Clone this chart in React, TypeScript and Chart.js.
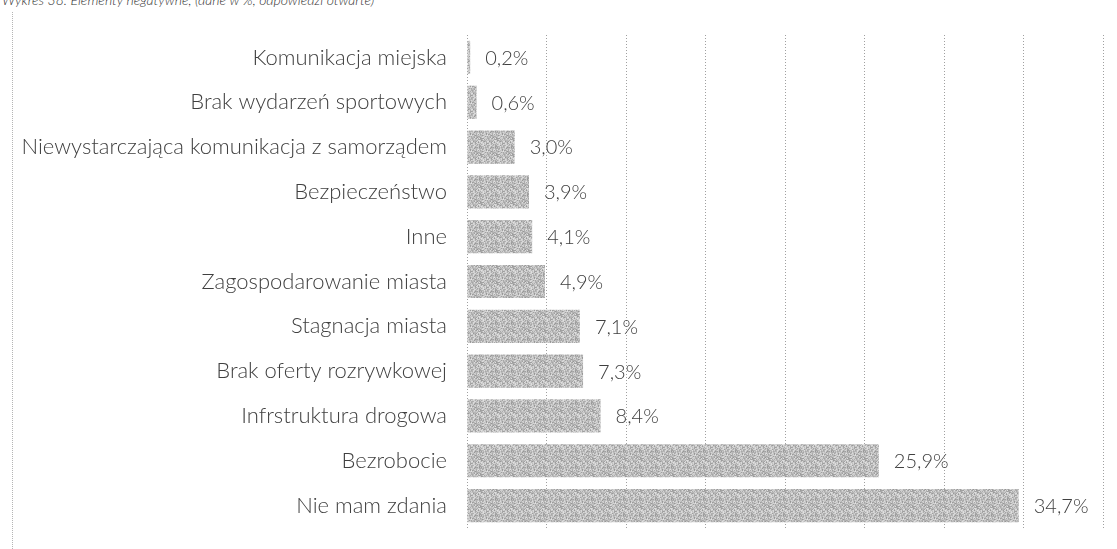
import React, { useEffect, useRef } from "react";
import { Chart, registerables } from "chart.js";

Chart.register(...registerables);

const titleText = "Wykres 38. Elementy negatywne, (dane w %, odpowiedzi otwarte)";

const categories = [
  "Komunikacja miejska",
  "Brak wydarzeń sportowych",
  "Niewystarczająca komunikacja z samorządem",
  "Bezpieczeństwo",
  "Inne",
  "Zagospodarowanie miasta",
  "Stagnacja miasta",
  "Brak oferty rozrywkowej",
  "Infrstruktura drogowa",
  "Bezrobocie",
  "Nie mam zdania",
];

const values = [0.2, 0.6, 3.0, 3.9, 4.1, 4.9, 7.1, 7.3, 8.4, 25.9, 34.7];

const xMin = 0;
const xMax = 40;
const xStep = 5;

const FONT = "Lato, 'Open Sans', sans-serif";

function makeTexture(): CanvasPattern | string {
  const size = 16;
  const c = document.createElement("canvas");
  c.width = size;
  c.height = size;
  const ctx = c.getContext("2d");
  if (!ctx) return "#b4b4b4";
  // deterministic grain for the bar fill (style only)
  let s = 12345;
  const next = () => {
    s = (s * 1103515245 + 12345) & 0x7fffffff;
    return s / 0x7fffffff;
  };
  for (let y = 0; y < size; y++) {
    for (let x = 0; x < size; x++) {
      const g = Math.round(150 + next() * 75);
      ctx.fillStyle = `rgb(${g},${g},${g})`;
      ctx.fillRect(x, y, 1, 1);
    }
  }
  const p = ctx.createPattern(c, "repeat");
  return p || "#b4b4b4";
}

const valueLabels = {
  id: "valueLabels",
  afterDatasetsDraw(chart: any) {
    const ctx = chart.ctx;
    const meta = chart.getDatasetMeta(0);
    ctx.save();
    ctx.font = `300 20px ${FONT}`;
    ctx.fillStyle = "#404040";
    ctx.textAlign = "left";
    ctx.textBaseline = "middle";
    meta.data.forEach((bar: any, i: number) => {
      const v = chart.data.datasets[0].data[i] as number;
      const label = v.toFixed(1).replace(".", ",") + "%";
      ctx.fillText(label, bar.x + 15, bar.y + 1);
    });
    ctx.restore();
  },
};

export default function App() {
  const canvasRef = useRef<HTMLCanvasElement | null>(null);

  useEffect(() => {
    if (!canvasRef.current) return;
    const chart = new Chart(canvasRef.current, {
      type: "bar",
      data: {
        labels: categories,
        datasets: [
          {
            data: values,
            backgroundColor: makeTexture() as any,
            borderWidth: 0,
            categoryPercentage: 1,
            barPercentage: 0.74,
          },
        ],
      },
      options: {
        indexAxis: "y",
        animation: false,
        responsive: false,
        maintainAspectRatio: false,
        layout: { padding: { left: 0, right: 14, top: 35, bottom: 21 } },
        plugins: {
          legend: { display: false },
          tooltip: { enabled: false },
          title: { display: false },
        },
        scales: {
          x: {
            min: xMin,
            max: xMax,
            ticks: { display: false, stepSize: xStep },
            grid: {
              display: true,
              drawTicks: false,
              color: "rgba(120,120,120,0.7)",
              lineWidth: 1,
            },
            border: { display: false, dash: [1, 2] },
            afterFit: (scale: any) => {
              scale.height = 0;
              scale.paddingLeft = 0;
              scale.paddingRight = 0;
            },
          },
          y: {
            ticks: {
              padding: 20,
              color: "#404040",
              font: { family: FONT, size: 22, weight: "300" as any },
            },
            grid: { display: false, drawTicks: false },
            border: { display: false },
            afterFit: (scale: any) => {
              scale.width = 467;
              scale.paddingTop = 0;
              scale.paddingBottom = 0;
            },
          },
        },
      },
      plugins: [valueLabels],
    });
    return () => chart.destroy();
  }, []);

  return (
    <div style={{ position: "absolute", left: 0, top: 0, width: 1117, height: 549, overflow: "hidden", background: "#fff" }}>
      <div
        style={{
          position: "absolute",
          left: 2,
          top: -8,
          fontFamily: FONT,
          fontStyle: "italic",
          fontWeight: 300,
          fontSize: 14,
          lineHeight: "16px",
          color: "#333",
          whiteSpace: "nowrap",
        }}
      >
        {titleText}
      </div>
      <div
        style={{
          position: "absolute",
          left: 12,
          top: 12,
          height: 537,
          borderLeft: "1px dotted #b5b5b5",
        }}
      />
      <canvas ref={canvasRef} width={1117} height={549} style={{ position: "absolute", left: 0, top: 0, display: "block" }} />
    </div>
  );
}
